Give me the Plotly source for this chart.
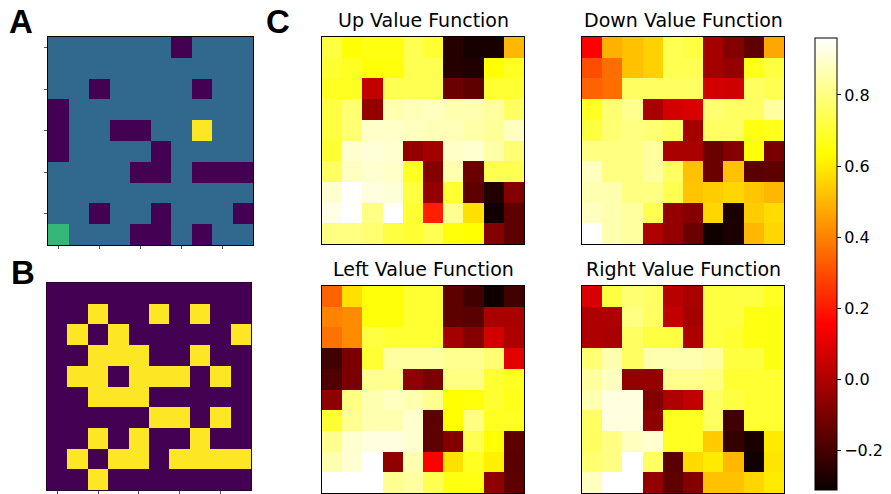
import plotly.graph_objects as go

# ---------------- data ----------------
# Panel A: maze environment (0 wall, 1 free, 2 start, 3 goal)
maze_grid = [
    [1, 1, 1, 1, 1, 1, 0, 1, 1, 1],
    [1, 1, 1, 1, 1, 1, 1, 1, 1, 1],
    [1, 1, 0, 1, 1, 1, 1, 0, 1, 1],
    [0, 1, 1, 1, 1, 1, 1, 1, 1, 1],
    [0, 1, 1, 0, 0, 1, 1, 3, 1, 1],
    [0, 1, 1, 1, 1, 0, 1, 1, 1, 1],
    [1, 1, 1, 1, 0, 0, 1, 0, 0, 0],
    [1, 1, 1, 1, 1, 1, 1, 1, 1, 1],
    [1, 1, 0, 1, 1, 0, 1, 1, 1, 0],
    [2, 1, 1, 1, 0, 0, 1, 0, 1, 1],
]

# Panel B: binary map
binary_grid = [
    [0, 0, 0, 0, 0, 0, 0, 0, 0, 0],
    [0, 0, 1, 0, 0, 1, 0, 1, 0, 0],
    [0, 1, 0, 1, 0, 0, 0, 0, 0, 1],
    [0, 0, 1, 1, 1, 0, 0, 1, 0, 0],
    [0, 1, 1, 0, 1, 1, 1, 0, 1, 0],
    [0, 0, 1, 1, 1, 0, 0, 0, 0, 0],
    [0, 0, 0, 0, 0, 1, 1, 0, 1, 0],
    [0, 0, 1, 0, 1, 0, 0, 1, 0, 0],
    [0, 1, 0, 1, 1, 0, 1, 1, 1, 1],
    [0, 0, 1, 0, 0, 0, 0, 0, 0, 0],
]

up_values = [
    [0.72, 0.64, 0.66, 0.66, 0.74, 0.70, -0.26, -0.29, -0.29, 0.50],
    [0.70, 0.68, 0.65, 0.65, 0.74, 0.74, -0.26, -0.27, 0.64, 0.68],
    [0.68, 0.68, 0.04, 0.74, 0.74, 0.74, -0.13, -0.15, 0.70, 0.70],
    [0.72, 0.78, -0.05, 0.86, 0.87, 0.88, 0.86, 0.86, 0.84, 0.76],
    [0.72, 0.78, 0.89, 0.89, 0.88, 0.87, 0.87, 0.85, 0.83, 0.88],
    [0.70, 0.90, 0.91, 0.90, -0.05, -0.02, 0.89, 0.90, 0.85, 0.78],
    [0.76, 0.88, 0.90, 0.89, 0.68, -0.08, 0.86, -0.13, 0.74, 0.74],
    [0.90, 0.96, 0.92, 0.91, 0.72, -0.05, 0.70, -0.15, -0.27, -0.08],
    [0.93, 0.96, 0.80, 0.96, 0.70, 0.21, 0.82, 0.58, -0.30, -0.15],
    [0.80, 0.80, 0.78, 0.72, 0.70, 0.74, 0.65, 0.64, -0.08, -0.15],
]

down_values = [
    [0.15, 0.49, 0.52, 0.55, 0.74, 0.72, -0.02, -0.08, -0.15, 0.47],
    [0.30, 0.36, 0.52, 0.55, 0.74, 0.74, -0.02, -0.05, 0.67, 0.72],
    [0.34, 0.36, 0.76, 0.76, 0.76, 0.76, 0.07, 0.06, 0.76, 0.74],
    [0.68, 0.78, 0.82, -0.01, 0.07, 0.08, 0.78, 0.76, 0.76, 0.84],
    [0.72, 0.78, 0.80, 0.78, 0.76, -0.02, 0.76, 0.76, 0.66, 0.67],
    [0.80, 0.80, 0.80, 0.84, -0.01, -0.01, -0.13, -0.08, 0.65, -0.10],
    [0.88, 0.80, 0.80, 0.84, 0.76, 0.52, -0.13, 0.52, -0.16, -0.15],
    [0.86, 0.86, 0.80, 0.80, 0.74, 0.53, 0.54, 0.56, 0.53, 0.50],
    [0.88, 0.86, 0.84, 0.74, -0.05, -0.08, 0.56, -0.28, 0.54, 0.57],
    [0.96, 0.86, 0.84, 0.00, -0.05, -0.13, -0.30, -0.28, 0.50, 0.56],
]

left_values = [
    [0.34, 0.58, 0.65, 0.65, 0.70, 0.70, -0.15, -0.21, -0.30, -0.21],
    [0.40, 0.42, 0.65, 0.65, 0.70, 0.70, -0.15, -0.16, -0.01, -0.01],
    [0.37, 0.42, 0.72, 0.70, 0.70, 0.70, -0.02, -0.08, 0.07, 0.00],
    [-0.21, -0.10, 0.70, 0.84, 0.84, 0.84, 0.82, 0.82, 0.78, 0.10],
    [-0.18, -0.10, 0.82, 0.82, -0.06, -0.10, 0.80, 0.80, 0.70, 0.68],
    [-0.06, 0.80, 0.86, 0.88, 0.86, 0.82, 0.64, 0.65, 0.70, 0.67],
    [0.70, 0.82, 0.86, 0.86, 0.90, -0.15, 0.64, 0.80, 0.68, 0.68],
    [0.82, 0.90, 0.92, 0.92, 0.90, -0.15, -0.08, 0.74, 0.64, -0.15],
    [0.86, 0.90, 0.96, -0.06, 0.86, 0.15, 0.58, 0.68, 0.61, -0.16],
    [0.96, 0.96, 0.96, 0.82, 0.84, 0.74, 0.66, 0.66, -0.06, -0.15],
]

right_values = [
    [0.08, 0.72, 0.78, 0.76, 0.02, -0.01, 0.72, 0.72, 0.72, 0.68],
    [0.00, 0.00, 0.80, 0.76, 0.04, -0.02, 0.72, 0.72, 0.66, 0.66],
    [0.00, -0.01, 0.76, 0.72, 0.72, 0.00, 0.72, 0.70, 0.66, 0.66],
    [0.78, 0.86, 0.76, 0.86, 0.86, 0.86, 0.84, 0.72, 0.72, 0.66],
    [0.84, 0.88, -0.05, -0.05, 0.82, 0.82, 0.80, 0.70, 0.70, 0.70],
    [0.86, 0.92, 0.92, -0.08, 0.00, 0.04, 0.76, 0.72, 0.70, 0.70],
    [0.76, 0.92, 0.92, -0.06, 0.68, 0.68, 0.76, -0.21, 0.70, 0.70],
    [0.76, 0.80, 0.88, 0.90, 0.68, 0.68, 0.54, -0.23, -0.28, 0.60],
    [0.78, 0.80, 0.96, 0.76, -0.16, 0.57, 0.60, 0.50, -0.30, 0.59],
    [0.88, 0.96, 0.96, -0.05, -0.15, -0.08, 0.52, 0.52, 0.56, 0.60],
]

panel_titles = ["Up Value Function", "Down Value Function",
                "Left Value Function", "Right Value Function"]
colorbar_ticks = [-0.2, 0.0, 0.2, 0.4, 0.6, 0.8]
colorbar_ticktext = ["\u22120.2", "0.0", "0.2", "0.4", "0.6", "0.8"]
vmin, vmax = -0.31, 0.96

# ---------------- styling ----------------
W, H = 891, 494

def px_dom_x(a, b):
    return [a / W, b / W]

def px_dom_y(top, bottom):
    return [1 - bottom / H, 1 - top / H]

viridis4 = [[0.0, "#440154"], [0.125, "#440154"],
            [0.125, "#31688e"], [0.5, "#31688e"],
            [0.5, "#35b779"], [0.875, "#35b779"],
            [0.875, "#fde725"], [1.0, "#fde725"]]
binary_cs = [[0.0, "#440154"], [0.5, "#440154"], [0.5, "#fde725"], [1.0, "#fde725"]]
hot_cs = [[0.0, "rgb(11,0,0)"], [0.365, "rgb(255,0,0)"],
          [0.746, "rgb(255,255,0)"], [1.0, "rgb(255,255,255)"]]

fig = go.Figure()

# panel A
fig.add_trace(go.Heatmap(z=maze_grid, colorscale=viridis4, zmin=0, zmax=3,
                         showscale=False, xaxis="x", yaxis="y", hoverinfo="skip"))
# panel B
fig.add_trace(go.Heatmap(z=binary_grid, colorscale=binary_cs, zmin=0, zmax=1,
                         showscale=False, xaxis="x2", yaxis="y2", hoverinfo="skip"))

value_sets = [up_values, down_values, left_values, right_values]
for i, vals in enumerate(value_sets):
    ax = i + 3
    fig.add_trace(go.Heatmap(
        z=vals, colorscale=hot_cs, zmin=vmin, zmax=vmax,
        showscale=(i == 0), xaxis=f"x{ax}", yaxis=f"y{ax}",
        colorbar=dict(
            x=815 / W, xanchor="left", xpad=0,
            y=1 - 264 / H, yanchor="middle", ypad=0,
            len=452 / H, lenmode="fraction",
            thickness=22, thicknessmode="pixels",
            outlinewidth=1, outlinecolor="#000",
            tickvals=colorbar_ticks, ticktext=colorbar_ticktext,
            ticks="outside", ticklen=4, tickwidth=1, tickcolor="#000",
            tickfont=dict(family="DejaVu Sans", size=16, color="#000"),
        ),
    ))

domains = {
    1: (px_dom_x(48, 253), px_dom_y(37, 245)),
    2: (px_dom_x(47, 251), px_dom_y(283, 490)),
    3: (px_dom_x(322, 524), px_dom_y(37, 244)),
    4: (px_dom_x(582, 784), px_dom_y(37, 244)),
    5: (px_dom_x(322, 524), px_dom_y(286, 493)),
    6: (px_dom_x(582, 784), px_dom_y(286, 493)),
}

layout = dict(width=W, height=H, margin=dict(l=0, r=0, t=0, b=0),
              paper_bgcolor="white", plot_bgcolor="white", showlegend=False)

for k, (dx, dy) in domains.items():
    sx = "" if k == 1 else str(k)
    with_ticks = k in (1, 2)
    xa = dict(domain=dx, anchor=f"y{sx}", range=[-0.5, 9.5], showgrid=False,
              zeroline=False, showticklabels=False, fixedrange=True,
              showline=True, mirror=True,
              linecolor="#000" if k != 2 else "#2a0033", linewidth=1)
    ya = dict(domain=dy, anchor=f"x{sx}", range=[9.5, -0.5], showgrid=False,
              zeroline=False, showticklabels=False, fixedrange=True,
              showline=True, mirror=True,
              linecolor="#000" if k != 2 else "#2a0033", linewidth=1)
    if with_ticks:
        xa.update(ticks="outside", tickvals=[0, 2, 4, 6, 8], ticklen=3,
                  tickcolor="#555", tickwidth=1)
        if k == 1:
            ya.update(ticks="outside", tickvals=[0, 2, 4, 6, 8], ticklen=3,
                      tickcolor="#555", tickwidth=1)
    else:
        xa.update(ticks="")
        ya.update(ticks="")
    layout[f"xaxis{sx}"] = xa
    layout[f"yaxis{sx}"] = ya

annotations = []
title_pos = [(423, 20), (683, 20), (423, 269), (683, 269)]
for t, (cx, cy) in zip(panel_titles, title_pos):
    annotations.append(dict(text=t, x=cx / W, y=1 - cy / H, xref="paper", yref="paper",
                            xanchor="center", yanchor="middle", showarrow=False,
                            font=dict(family="DejaVu Sans", size=19, color="#000")))
for lab, (cx, cy) in zip(["A", "B", "C"], [(20.5, 22), (22.5, 272), (277.5, 22)]):
    annotations.append(dict(text=f"<b>{lab}</b>", x=cx / W, y=1 - cy / H,
                            xref="paper", yref="paper", xanchor="center",
                            yanchor="middle", showarrow=False,
                            font=dict(family="Liberation Sans", size=33, color="#000")))
layout["annotations"] = annotations

fig.update_layout(**layout)
fig.write_html("out.html", config={"displayModeBar": False},
               post_script="document.body.style.margin='0';document.body.style.overflow='hidden';")
